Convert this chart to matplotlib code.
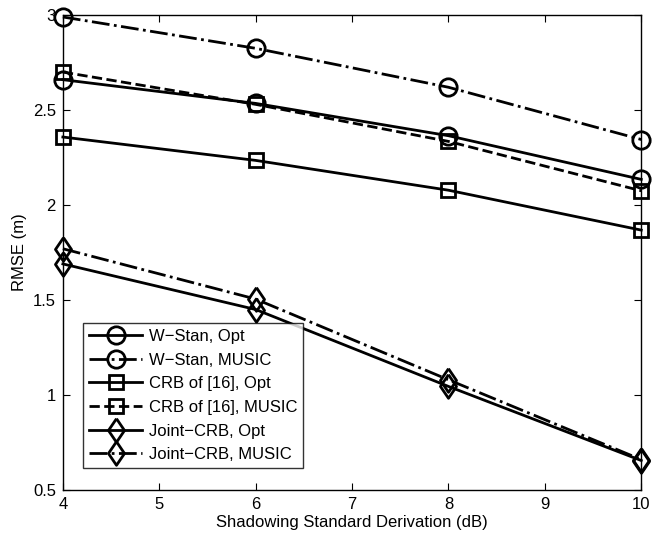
import matplotlib
matplotlib.use("Agg")
import matplotlib.pyplot as plt

plt.rcParams['font.family'] = ['Liberation Sans', 'DejaVu Sans']

sigma = [4, 6, 8, 10]
wstan_opt = [2.66, 2.535, 2.365, 2.135]
wstan_music = [2.99, 2.825, 2.62, 2.345]
crb16_opt = [2.358, 2.235, 2.078, 1.868]
crb16_music = [2.70, 2.53, 2.335, 2.075]
joint_opt = [1.69, 1.45, 1.045, 0.655]
joint_music = [1.77, 1.505, 1.08, 0.66]

# MATLAB-like diamond, a bit narrower than tall
diamond = [(0, 1), (0.68, 0), (0, -1), (-0.68, 0), (0, 1)]

series = [
    ("W\u2212Stan, Opt", wstan_opt, "-", "o"),
    ("W\u2212Stan, MUSIC", wstan_music, "-.", "o"),
    ("CRB of [16], Opt", crb16_opt, "-", "s"),
    ("CRB of [16], MUSIC", crb16_music, "--", "s"),
    ("Joint\u2212CRB, Opt", joint_opt, "-", "dia"),
    ("Joint\u2212CRB, MUSIC", joint_music, "-.", "dia"),
]
msize = {"o": 12.5, "s": 10, "dia": 17}

fig = plt.figure(figsize=(6.55, 5.39), dpi=100)
ax = fig.add_axes([0.096, 0.091, 0.883, 0.881])

for label, vals, ls, mk in series:
    marker = diamond if mk == "dia" else mk
    ax.plot(sigma, vals, color="black", linestyle=ls, linewidth=2,
            marker=marker, markersize=msize[mk], markerfacecolor="none",
            markeredgewidth=2, label=label, clip_on=False)

ax.set_xlim(4, 10)
ax.set_ylim(0.5, 3)
ax.set_xticks([4, 5, 6, 7, 8, 9, 10])
ax.set_yticks([0.5, 1, 1.5, 2, 2.5, 3])
ax.set_yticklabels(["0.5", "1", "1.5", "2", "2.5", "3"])
ax.tick_params(direction="in", top=True, right=True, labelsize=12, length=5, pad=5)
for sp in ax.spines.values():
    sp.set_linewidth(1)
ax.set_xlabel("Shadowing Standard Derivation (dB)", fontsize=12, labelpad=2)
ax.set_ylabel("RMSE (m)", fontsize=12, labelpad=4)

leg = ax.legend(loc="lower left", bbox_to_anchor=(0.035, 0.046), borderaxespad=0,
                fontsize=12, frameon=True, fancybox=False, edgecolor="black",
                handlelength=3.2, labelspacing=0.52, borderpad=0.35,
                handletextpad=0.4)
leg.get_frame().set_linewidth(1)

fig.savefig("out.png", dpi=100)
